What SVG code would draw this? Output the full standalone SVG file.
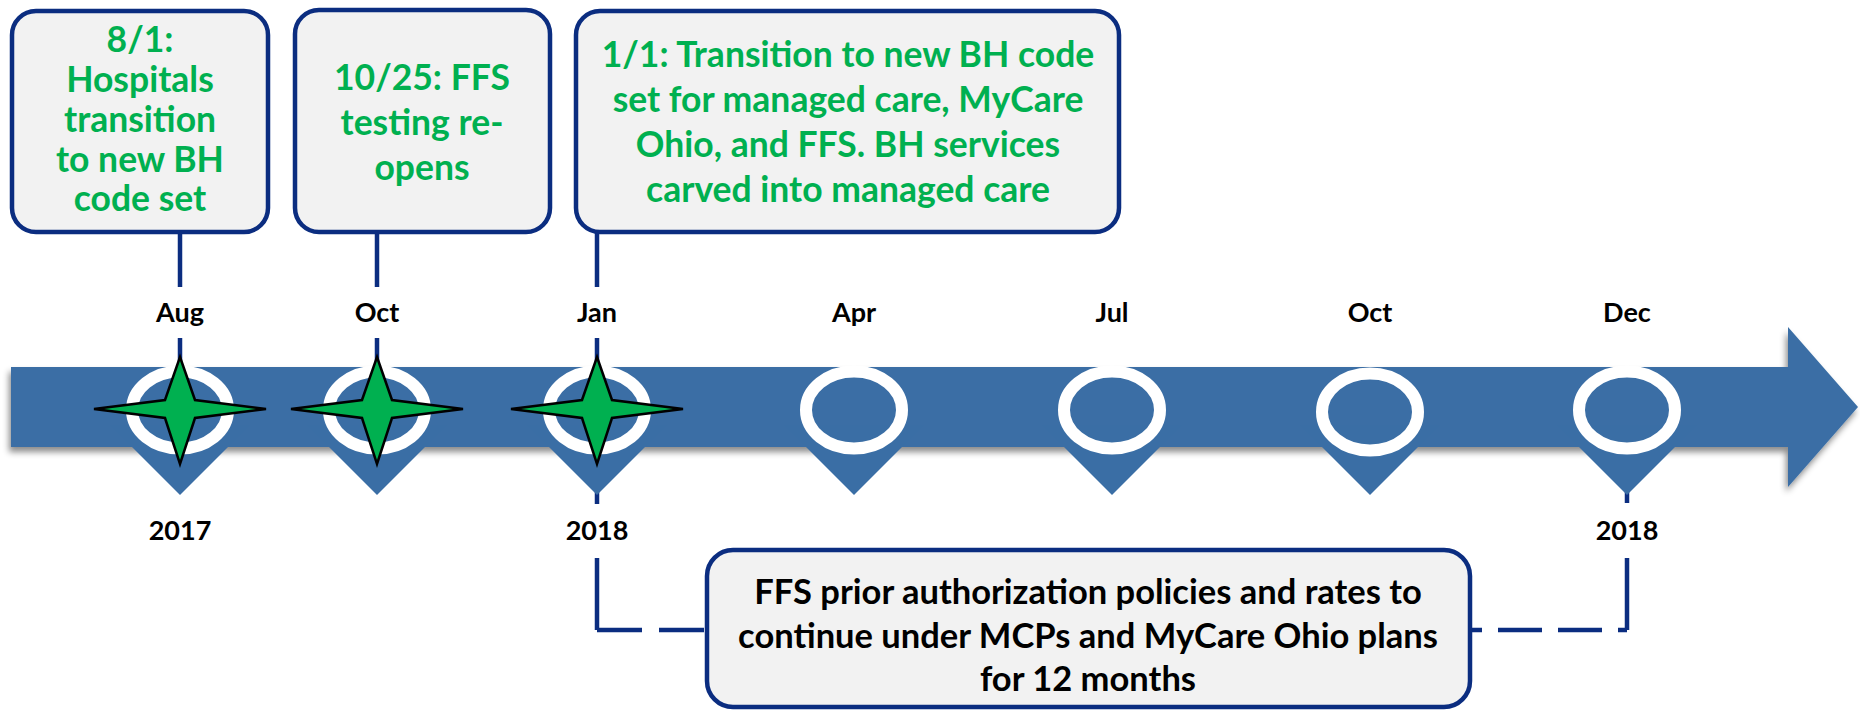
<svg xmlns="http://www.w3.org/2000/svg" xmlns:xlink="http://www.w3.org/1999/xlink" width="1860" height="711" viewBox="0 0 1860 711">
<defs>
<style>
.box{fill:#F2F2F2;stroke:#0B2D80;stroke-width:4.5}
.gt{font-family:Lato,"Liberation Sans",sans-serif;font-weight:bold;font-size:35.5px;fill:#00B050;text-anchor:middle}
.bt{font-family:Lato,"Liberation Sans",sans-serif;font-weight:bold;font-size:34.5px;fill:#000;text-anchor:middle}
.lbl{font-family:Lato,"Liberation Sans",sans-serif;font-weight:bold;font-size:27px;fill:#000;text-anchor:middle}
.con{stroke:#0B2D80;stroke-width:4.5;fill:none}
.dash{stroke:#0B2D80;stroke-width:4.5;fill:none;stroke-dasharray:45 17}
.star{fill:#00B050;stroke:#000;stroke-width:2.5;stroke-linejoin:miter}
.band{fill:#3A6EA5}
.ring{fill:none;stroke:#FFFFFF;stroke-width:12}
</style>
<filter id="sh" x="-5%" y="-30%" width="110%" height="160%">
<feDropShadow dx="-2" dy="5" stdDeviation="3" flood-color="#000" flood-opacity="0.45"/>
</filter>
<path id="star" d="M0,-52 L15,-9 L86,0 L15,9 L0,55 L-15,9 L-86,0 L-15,-9 Z"/>
<polygon id="pin" points="-70,425 70,425 0,495"/>
</defs>
<rect width="1860" height="711" fill="#FFFFFF"/>

<g id="timeline">
<path class="band" filter="url(#sh)" d="M11,367 H1788 V327 L1858,407 L1788,487 V447 H11 Z"/>
</g>

<g id="connectors">
<line class="con" x1="180" y1="232" x2="180" y2="287"/>
<line class="con" x1="180" y1="338" x2="180" y2="362"/>
<line class="con" x1="377" y1="232" x2="377" y2="287"/>
<line class="con" x1="377" y1="338" x2="377" y2="362"/>
<line class="con" x1="597" y1="232" x2="597" y2="287"/>
<line class="con" x1="597" y1="338" x2="597" y2="362"/>
<line class="con" x1="597" y1="490" x2="597" y2="504"/>
<path class="con" d="M597,558 V630"/>
<path class="dash" d="M597,630 H707"/>
<line class="con" x1="1627" y1="490" x2="1627" y2="503"/>
<path class="con" d="M1627,558 V630"/>
<path class="dash" style="stroke-dasharray:44 16;stroke-dashoffset:32" d="M1470,630 H1627"/>
</g>

<g id="marker-aug-2017">
<use xlink:href="#pin" x="180" y="0" class="band"/>
<ellipse class="ring" cx="180" cy="410" rx="48" ry="38.5"/>
<use xlink:href="#star" x="180" y="409" class="star"/>
<text class="lbl" x="180" y="322">Aug</text>
<text class="lbl" x="180" y="540">2017</text>
</g>
<g id="marker-oct-2017">
<use xlink:href="#pin" x="377" y="0" class="band"/>
<ellipse class="ring" cx="377" cy="410" rx="48" ry="38.5"/>
<use xlink:href="#star" x="377" y="409" class="star"/>
<text class="lbl" x="377" y="322">Oct</text>
</g>
<g id="marker-jan-2018">
<use xlink:href="#pin" x="597" y="0" class="band"/>
<ellipse class="ring" cx="597" cy="410" rx="48" ry="38.5"/>
<use xlink:href="#star" x="597" y="409" class="star"/>
<text class="lbl" x="597" y="322">Jan</text>
<text class="lbl" x="597" y="540">2018</text>
</g>
<g id="marker-apr">
<use xlink:href="#pin" x="854" y="0" class="band"/>
<ellipse class="ring" cx="854" cy="410" rx="48" ry="38.5"/>
<text class="lbl" x="854" y="322">Apr</text>
</g>
<g id="marker-jul">
<use xlink:href="#pin" x="1112" y="0" class="band"/>
<ellipse class="ring" cx="1112" cy="410" rx="48" ry="38.5"/>
<text class="lbl" x="1112" y="322">Jul</text>
</g>
<g id="marker-oct-2018">
<use xlink:href="#pin" x="1370" y="0" class="band"/>
<ellipse class="ring" cx="1370" cy="412" rx="48" ry="38.5"/>
<text class="lbl" x="1370" y="322">Oct</text>
</g>
<g id="marker-dec-2018">
<use xlink:href="#pin" x="1627" y="0" class="band"/>
<ellipse class="ring" cx="1627" cy="410" rx="48" ry="38.5"/>
<text class="lbl" x="1627" y="322">Dec</text>
<text class="lbl" x="1627" y="540">2018</text>
</g>

<g id="box-hospitals">
<rect class="box" x="12" y="11" width="256" height="221" rx="24"/>
<text class="gt" x="140" y="52">8/1:</text>
<text class="gt" x="140" y="92">Hospitals</text>
<text class="gt" x="140" y="132">transition</text>
<text class="gt" x="140" y="172">to new BH</text>
<text class="gt" x="140" y="211">code set</text>
</g>
<g id="box-ffs-testing">
<rect class="box" x="295" y="10" width="255" height="222" rx="24"/>
<text class="gt" x="422" y="90">10/25: FFS</text>
<text class="gt" x="422" y="135">testing re-</text>
<text class="gt" x="422" y="180">opens</text>
</g>
<g id="box-transition">
<rect class="box" x="576" y="11" width="543" height="221" rx="24"/>
<text class="gt" x="848" y="67">1/1: Transition to new BH code</text>
<text class="gt" x="848" y="112">set for managed care, MyCare</text>
<text class="gt" x="848" y="157">Ohio, and FFS. BH services</text>
<text class="gt" x="848" y="202">carved into managed care</text>
</g>
<g id="box-prior-auth">
<rect class="box" x="707" y="550" width="763" height="157" rx="26"/>
<text class="bt" x="1088" y="604">FFS prior authorization policies and rates to</text>
<text class="bt" x="1088" y="648">continue under MCPs and MyCare Ohio plans</text>
<text class="bt" x="1088" y="691">for 12 months</text>
</g>
</svg>
